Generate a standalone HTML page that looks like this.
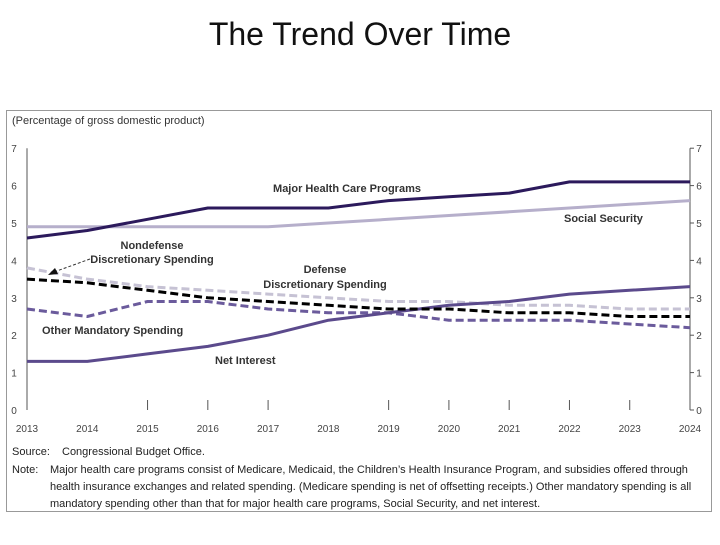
<!DOCTYPE html>
<html><head><meta charset="utf-8"><style>
body{margin:0;background:#fff;width:720px;height:540px;overflow:hidden;font-family:"Liberation Sans",sans-serif}
</style></head><body>
<svg width="720" height="540" xmlns="http://www.w3.org/2000/svg" font-family="Liberation Sans, sans-serif">
<text x="360" y="45" text-anchor="middle" font-size="32" fill="#111">The Trend Over Time</text>
<rect x="6.5" y="110.5" width="705" height="401" fill="none" stroke="#999"/>
<text x="12" y="124" font-size="11" fill="#333">(Percentage of gross domestic product)</text>
<g id="axes"></g>
<g id="series"></g>
<g font-size="11" font-weight="bold" fill="#333">
<text x="347" y="192" text-anchor="middle">Major Health Care Programs</text>
<text x="564" y="222">Social Security</text>
<text x="152" y="249" text-anchor="middle">Nondefense</text>
<text x="152" y="263" text-anchor="middle">Discretionary Spending</text>
<text x="325" y="273" text-anchor="middle">Defense</text>
<text x="325" y="288" text-anchor="middle">Discretionary Spending</text>
<text x="42" y="334">Other Mandatory Spending</text>
<text x="215" y="364">Net Interest</text>
</g>
<line x1="90" y1="259" x2="54" y2="272" stroke="#333" stroke-dasharray="3,2"/>
<polygon points="48,275 55,268 58,274" fill="#111"/>
<g font-size="11" fill="#222">
<text x="12" y="455">Source:</text>
<text x="62" y="455">Congressional Budget Office.</text>
<text x="12" y="473">Note:</text>
<text x="50" y="473">Major health care programs consist of Medicare, Medicaid, the Children’s Health Insurance Program, and subsidies offered through</text>
<text x="50" y="490">health insurance exchanges and related spending. (Medicare spending is net of offsetting receipts.) Other mandatory spending is all</text>
<text x="50" y="507">mandatory spending other than that for major health care programs, Social Security, and net interest.</text>
</g>
</svg>
<script>
const years=[2013,2014,2015,2016,2017,2018,2019,2020,2021,2022,2023,2024];
const yTicks=[0,1,2,3,4,5,6,7];
const health=[4.6,4.8,5.1,5.4,5.4,5.4,5.6,5.7,5.8,6.1,6.1,6.1];
const socialSecurity=[4.9,4.9,4.9,4.9,4.9,5.0,5.1,5.2,5.3,5.4,5.5,5.6];
const nondefense=[3.8,3.5,3.3,3.2,3.1,3.0,2.9,2.9,2.8,2.8,2.7,2.7];
const defense=[3.5,3.4,3.2,3.0,2.9,2.8,2.7,2.7,2.6,2.6,2.5,2.5];
const otherMandatory=[2.7,2.5,2.9,2.9,2.7,2.6,2.6,2.4,2.4,2.4,2.3,2.2];
const netInterest=[1.3,1.3,1.5,1.7,2.0,2.4,2.6,2.8,2.9,3.1,3.2,3.3];
const NS='http://www.w3.org/2000/svg';
const X=y=>27+(y-2013)*(663/11);
const Y=v=>410-v*37.4;
const axes=document.getElementById('axes'),ser=document.getElementById('series');
function mk(tag,attrs,parent,txt){const e=document.createElementNS(NS,tag);for(const k in attrs)e.setAttribute(k,attrs[k]);if(txt!==undefined)e.textContent=txt;parent.appendChild(e);return e;}
let e;
e=mk('line',{x1:27,x2:27,y1:Y(7),y2:Y(0),stroke:'#555'},axes);


e=mk('line',{x1:690,x2:690,y1:Y(7),y2:Y(0),stroke:'#555'},axes);


yTicks.forEach(t=>{
 e=mk('text',{x:14,y:Y(t)+4,'font-size':10,fill:'#444','text-anchor':'middle'},axes,String(t));
 
 
 e=mk('text',{x:699,y:Y(t)+4,'font-size':10,fill:'#444','text-anchor':'middle'},axes,String(t));
 
 
 e=mk('line',{x1:690,x2:694,y1:Y(t),y2:Y(t),stroke:'#555'},axes);
 
 
});
years.forEach(yr=>{
 e=mk('text',{x:X(yr),y:432,'font-size':10,fill:'#444','text-anchor':'middle'},axes,String(yr));
 
 
 if(yr>2014&&yr<2024&&yr!==2018){
  e=mk('line',{x1:X(yr),x2:X(yr),y1:Y(0)-10,y2:Y(0),stroke:'#555'},axes);
  
  
 }
});
function line(vals,color,w,dash,name){
 const d=vals.map((v,i)=>(i?'L':'M')+X(years[i]).toFixed(1)+','+Y(v).toFixed(1)).join(' ');
 const p=mk('path',{d:d,fill:'none',stroke:color,'stroke-width':w,'stroke-linejoin':'round'},ser);
 if(dash)p.setAttribute('stroke-dasharray',dash);
 
 
}
line(socialSecurity,'#b6afcb',3,null,'line-social-security');
line(nondefense,'#c6c2d4',3,'8,4','line-nondefense');
line(otherMandatory,'#6b5b9c',3,'8,4','line-other-mandatory');
line(netInterest,'#5b4a8c',3,null,'line-net-interest');
line(defense,'#000',3,'8,4','line-defense');
line(health,'#2c1a5c',3,null,'line-health');
</script>
</body></html>
